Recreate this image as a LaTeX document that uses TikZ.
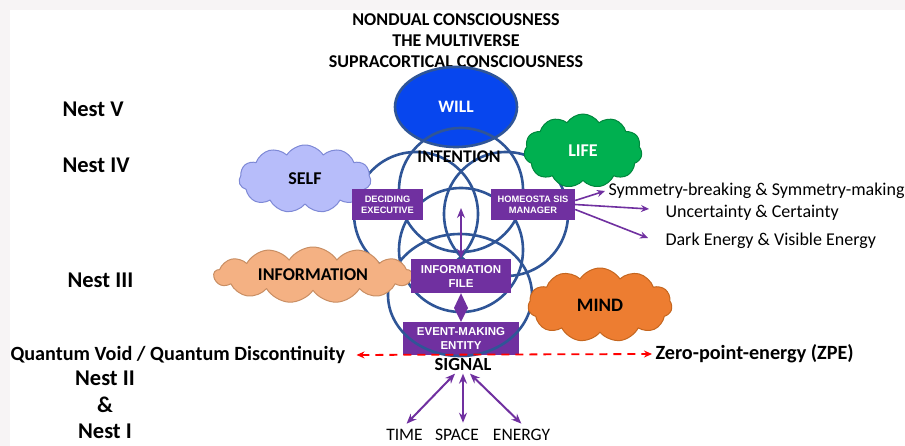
\documentclass[tikz,border=0pt]{standalone}
\usepackage{fontspec}
\setmainfont{Carlito}
\newfontfamily\tagfont{Liberation Sans}
\usetikzlibrary{shapes.geometric,shapes.symbols,arrows.meta}
\definecolor{ringblue}{HTML}{2F5597}
\definecolor{willblue}{HTML}{0746EE}
\definecolor{tagpurple}{HTML}{7030A0}
\definecolor{selffill}{HTML}{B7BDFA}
\definecolor{selfline}{HTML}{7E89D6}
\definecolor{infofill}{HTML}{F4B183}
\definecolor{infoline}{HTML}{C98E63}
\definecolor{lifefill}{HTML}{00B050}
\definecolor{lifeline}{HTML}{00873D}
\definecolor{mindfill}{HTML}{ED7D31}
\definecolor{mindline}{HTML}{C5661F}
\definecolor{edgegrey}{HTML}{F7F4F5}
\begin{document}
\begin{tikzpicture}[x=1pt,y=-1pt,line join=round,
  ring/.style={circle,draw=ringblue,line width=2.6pt,minimum size=124pt,inner sep=0pt},
  tagbox/.style={fill=tagpurple,text=white,align=center,inner sep=0pt,font=\tagfont\bfseries\fontsize{9.3}{10.8}\selectfont},
  puffcloud/.style={cloud,cloud puffs=11,cloud puff arc=115,cloud ignores aspect,line width=1pt,inner sep=0pt,font=\bfseries\fontsize{18}{18}\selectfont},
  nestlabel/.style={anchor=west,font=\bfseries\fontsize{22.5}{27}\selectfont},
  plain/.style={font=\fontsize{18}{20}\selectfont},
  >={Stealth[length=10pt,width=8pt]}]
\useasboundingbox (0,0) rectangle (905,446);
\fill[edgegrey] (0,0) rectangle (905,446);
\fill[white] (10,10) rectangle (905,446);

\node[align=center,font=\bfseries\fontsize{18}{21}\selectfont] (top) at (456,41)
  {NONDUAL CONSCIOUSNESS\\THE MULTIVERSE\\SUPRACORTICAL CONSCIOUSNESS};

\node[nestlabel] (n5) at (59,109) {Nest V};
\node[nestlabel] (n4) at (59,165) {Nest IV};
\node[nestlabel] (n3) at (64,280) {Nest III};
\node[align=center,font=\bfseries\fontsize{22.5}{26.5}\selectfont] (n21) at (105,405) {Nest II\\\&\\Nest I};

\node[ellipse,fill=willblue,draw=ringblue,line width=2.6pt,minimum width=122pt,minimum height=80pt,
  text=white,font=\bfseries\fontsize{17.5}{17}\selectfont] (will) at (456,107) {WILL};

\node[tagbox,minimum width=116pt,minimum height=33pt,font=\tagfont\bfseries\fontsize{11.5}{14}\selectfont] (event) at (461,338.5) {EVENT-MAKING\\ENTITY};

\node[ring] (intent) at (461,190) {};
\node[ring] (left) at (416,214) {};
\node[ring] (right) at (506,214) {};
\node[ring] (mid) at (461,250) {};
\node[ellipse,draw=ringblue,line width=2.6pt,minimum width=144pt,minimum height=122pt] (eventring) at (460,295) {};
\node[font=\bfseries\fontsize{17.8}{17}\selectfont] (intention) at (459,157) {INTENTION};

\node[puffcloud,fill=selffill,draw=selfline,minimum width=132pt,minimum height=68pt] (self) at (305,179) {SELF};
\node[puffcloud,fill=infofill,draw=infoline,minimum width=198pt,minimum height=56pt,cloud puffs=13] (information) at (313,275) {INFORMATION};
\node[puffcloud,fill=lifefill,draw=lifeline,minimum width=118pt,minimum height=74pt,text=white] (life) at (583,151) {LIFE};
\node[puffcloud,fill=mindfill,draw=mindline,minimum width=144pt,minimum height=74pt,font=\bfseries\fontsize{19}{18}\selectfont] (mind) at (600,305) {MIND};

\node[tagbox,minimum width=71pt,minimum height=31pt] (deciding) at (387.5,204.5) {DECIDING\\EXECUTIVE};
\node[tagbox,minimum width=84pt,minimum height=31pt] (homeo) at (533,204.5) {HOMEOSTA SIS\\MANAGER};
\node[tagbox,minimum width=100pt,minimum height=34pt,font=\tagfont\bfseries\fontsize{11.5}{14}\selectfont] (infofile) at (461,276) {INFORMATION\\FILE};

\coordinate (hub) at (461,208);
\draw[tagpurple,line width=2pt,<->] (hub) -- (infofile.north);
\fill[tagpurple] (infofile.south) -- (468,308) -- (event.north) -- (454,308) -- cycle;

\node[plain,anchor=west] (sym) at (605,191) {Symmetry-breaking \& Symmetry-making};
\node[plain,anchor=west] (unc) at (662,213) {Uncertainty \& Certainty};
\node[plain,anchor=west] (dark) at (662,241) {Dark Energy \& Visible Energy};
\coordinate (unctip) at (649,209);
\coordinate (darktip) at (648,238);
\begin{scope}[tagpurple,line width=1.6pt,>={Stealth[length=8pt,width=7pt]}]
  \draw[->] (homeo.east) ++(0,-4) -- (sym.west);
  \draw[->] (homeo.east) ++(0,0) -- (unctip);
  \draw[->] (homeo.east) ++(0,5) -- (darktip);
\end{scope}

\node[font=\bfseries\fontsize{20.2}{20}\selectfont,anchor=west] (void) at (7,355) {Quantum Void / Quantum Discontinuity};
\node[font=\bfseries\fontsize{20.2}{20}\selectfont,anchor=west] (zpe) at (652,354) {Zero-point-energy (ZPE)};
\draw[red,line width=1.8pt,dash pattern=on 8pt off 6pt,<->,>={Stealth[length=8pt,width=7pt]},shorten <=8pt] (void.east) -- (zpe.west);

\node[font=\bfseries\fontsize{18.5}{17}\selectfont] (signal) at (463,364) {SIGNAL};
\node[font=\fontsize{17.5}{16}\selectfont] (time) at (404.5,435) {TIME};
\node[font=\fontsize{17.5}{16}\selectfont] (space) at (457,435) {SPACE};
\node[font=\fontsize{17.5}{16}\selectfont] (energy) at (521.5,435) {ENERGY};
\begin{scope}[tagpurple,line width=2pt,<->,shorten >=3pt]
  \draw ([xshift=-8pt]signal.south) -- (time.north);
  \draw (signal.south) -- (space.north -| signal.south);
  \draw ([xshift=7pt]signal.south) -- ([xshift=2pt]energy.north);
\end{scope}
\end{tikzpicture}
\end{document}
